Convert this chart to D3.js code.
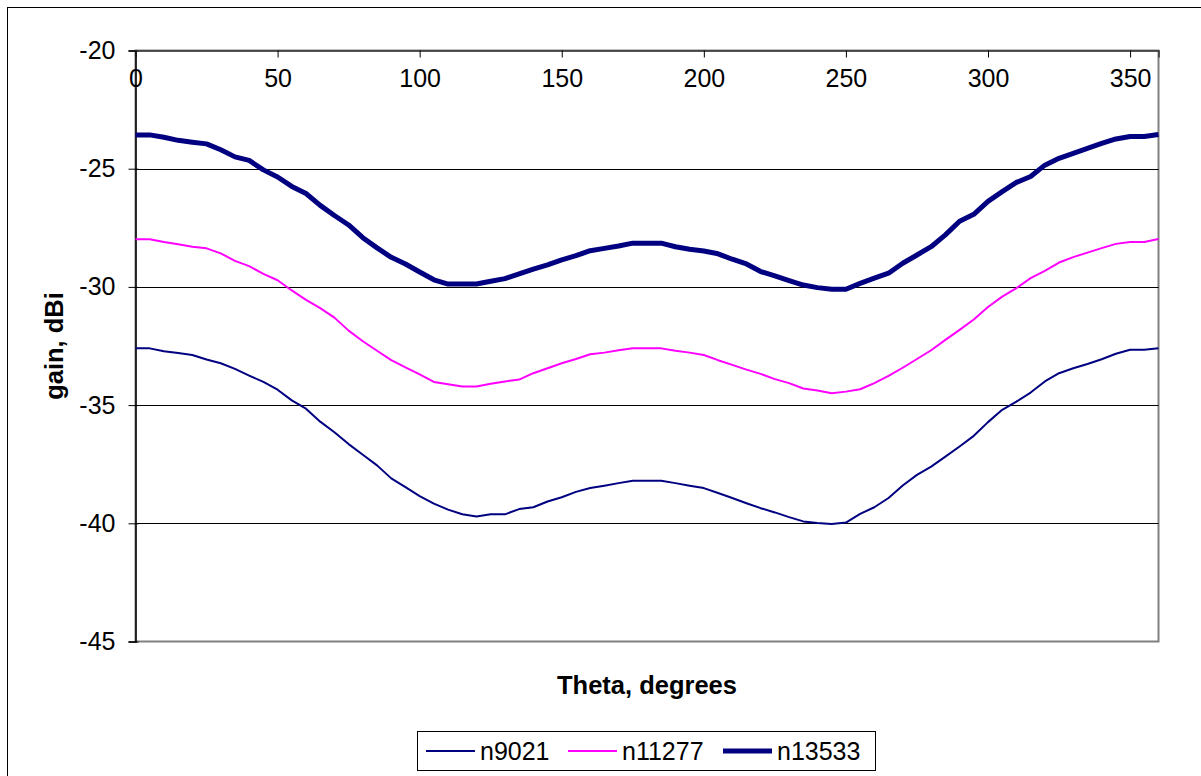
<!DOCTYPE html>
<html><head><meta charset="utf-8">
<script src="https://cdn.jsdelivr.net/npm/d3@7"></script>
<style>
body{margin:0;background:#fff;}
svg{display:block;font-family:"Liberation Sans",Arial,sans-serif;}
</style></head>
<body>
<svg id="chart" width="1201" height="776"></svg>
<script>
const theta = d3.range(0, 361, 5);
const seriesNames = ["n9021", "n11277", "n13533"];
const n9021 = [
 -32.6,-32.6,-32.72,-32.8,-32.88,-33.07,-33.23,-33.47,-33.75,-34.02,-34.35,-34.8,-35.15,-35.7,-36.15,-36.65,-37.1,-37.55,-38.1,
 -38.47,-38.85,-39.17,-39.42,-39.62,-39.71,-39.62,-39.62,-39.4,-39.32,-39.08,-38.9,-38.67,-38.51,-38.41,-38.3,-38.2,-38.2,-38.2,
 -38.3,-38.41,-38.51,-38.72,-38.93,-39.15,-39.36,-39.54,-39.74,-39.92,-39.99,-40.03,-39.97,-39.6,-39.32,-38.93,-38.4,
 -37.95,-37.6,-37.18,-36.75,-36.3,-35.72,-35.2,-34.85,-34.47,-34.0,-33.65,-33.44,-33.26,-33.06,-32.83,-32.66,-32.66,-32.6
];
const n11277 = [
 -27.98,-27.98,-28.1,-28.2,-28.3,-28.37,-28.58,-28.9,-29.12,-29.45,-29.72,-30.15,-30.55,-30.9,-31.3,-31.85,-32.3,-32.7,-33.1,
 -33.4,-33.7,-34.02,-34.12,-34.21,-34.21,-34.1,-34.0,-33.92,-33.65,-33.44,-33.23,-33.05,-32.85,-32.78,-32.68,-32.6,-32.6,-32.6,
 -32.7,-32.78,-32.88,-33.1,-33.3,-33.5,-33.68,-33.9,-34.07,-34.3,-34.38,-34.5,-34.43,-34.33,-34.07,-33.76,-33.42,
 -33.05,-32.68,-32.24,-31.82,-31.38,-30.85,-30.41,-30.05,-29.63,-29.32,-28.97,-28.74,-28.55,-28.36,-28.18,-28.1,-28.1,-27.97
];
const n13533 = [
 -23.57,-23.57,-23.67,-23.8,-23.88,-23.95,-24.2,-24.5,-24.65,-25.05,-25.35,-25.75,-26.05,-26.55,-26.98,-27.38,-27.92,-28.35,-28.75,
 -29.03,-29.37,-29.7,-29.88,-29.88,-29.88,-29.76,-29.65,-29.45,-29.25,-29.07,-28.86,-28.68,-28.47,-28.37,-28.27,-28.15,-28.15,-28.15,
 -28.3,-28.41,-28.48,-28.6,-28.83,-29.03,-29.35,-29.53,-29.73,-29.92,-30.03,-30.1,-30.1,-29.85,-29.63,-29.42,-29.0,
 -28.65,-28.3,-27.8,-27.22,-26.93,-26.38,-25.97,-25.58,-25.33,-24.85,-24.56,-24.35,-24.14,-23.93,-23.74,-23.64,-23.64,-23.55
];
const xTicks = [0, 50, 100, 150, 200, 250, 300, 350];
const yTicks = [-20, -25, -30, -35, -40, -45];
const xTitle = "Theta, degrees";
const yTitle = "gain, dBi";

const series = [
  {name: seriesNames[0], values: n9021, color: "#000080", width: 2},
  {name: seriesNames[1], values: n11277, color: "#FF00FF", width: 2},
  {name: seriesNames[2], values: n13533, color: "#000080", width: 5}
];

const svg = d3.select("#chart");
const L = 135.5, R = 1158.5, T = 50.5, B = 641.5;
const x = d3.scaleLinear().domain([0, 360]).range([L, R]);
const y = d3.scaleLinear().domain([-45, -20]).range([B, T]);
const fmt = d => String(d);

// outer border
svg.append("rect").attr("x", 7.5).attr("y", 7.5).attr("width", 1210).attr("height", 790)
  .attr("fill", "none").attr("stroke", "#000").attr("stroke-width", 1);

// plot area border
svg.append("rect").attr("x", L).attr("y", T).attr("width", R - L).attr("height", B - T)
  .attr("fill", "none").attr("stroke", "#808080").attr("stroke-width", 2);

// gridlines
svg.append("g").selectAll("line").data(yTicks.filter(d => d > -45 && d < -20)).join("line")
  .attr("x1", L).attr("x2", R)
  .attr("y1", d => Math.round(y(d)) + 0.5).attr("y2", d => Math.round(y(d)) + 0.5)
  .attr("stroke", "#000").attr("stroke-width", 1);

// y axis
const yAxis = d3.axisLeft(y).tickValues(yTicks).tickSize(7).tickPadding(13).tickFormat(fmt);
const gy = svg.append("g").attr("transform", `translate(${L},0)`).call(yAxis);
gy.select(".domain").attr("stroke", "#000").attr("stroke-width", 1.5);
gy.selectAll(".tick line").attr("stroke", "#000").attr("x2", -7).attr("x1", 3);
gy.selectAll("text").attr("font-size", 25).attr("fill", "#000")
  .attr("font-family", "Liberation Sans, Arial, sans-serif");

// x axis at top (y = -20), ticks inward, labels below line
const xAxis = d3.axisBottom(x).tickValues(xTicks).tickSize(7).tickPadding(12).tickFormat(fmt);
const gx = svg.append("g").attr("transform", `translate(0,${T})`).call(xAxis);
gx.select(".domain").attr("stroke", "#333").attr("stroke-width", 1.5);
gx.selectAll(".tick line").attr("stroke", "#000");
gx.selectAll("text").attr("font-size", 25).attr("fill", "#000")
  .attr("font-family", "Liberation Sans, Arial, sans-serif");

// lines
const line = d3.line().x((d, i) => x(theta[i])).y(d => y(d));
svg.append("g").selectAll("path").data(series).join("path")
  .attr("d", s => line(s.values))
  .attr("fill", "none")
  .attr("stroke", s => s.color)
  .attr("stroke-width", s => s.width)
  .attr("stroke-linejoin", "round");

// titles
svg.append("text").attr("x", 647).attr("y", 694).attr("text-anchor", "middle")
  .attr("font-size", 25.5).attr("font-weight", "bold").text(xTitle);
svg.append("text").attr("transform", "translate(63,346) rotate(-90)").attr("text-anchor", "middle")
  .attr("font-size", 25.5).attr("font-weight", "bold").text(yTitle);

// legend
const leg = svg.append("g");
leg.append("rect").attr("x", 417.5).attr("y", 731.5).attr("width", 458).attr("height", 39)
  .attr("fill", "#fff").attr("stroke", "#000").attr("stroke-width", 1);
const legX = [426, 568, 723];
const legItems = leg.selectAll("g").data(series).join("g")
  .attr("transform", (s, i) => `translate(${legX[i]},751)`);
legItems.append("line").attr("x1", 0).attr("x2", 49).attr("y1", 0).attr("y2", 0)
  .attr("stroke", s => s.color).attr("stroke-width", s => s.width);
legItems.append("text").attr("x", 54).attr("y", 9).attr("font-size", 25).text(s => s.name);
</script>
</body></html>
